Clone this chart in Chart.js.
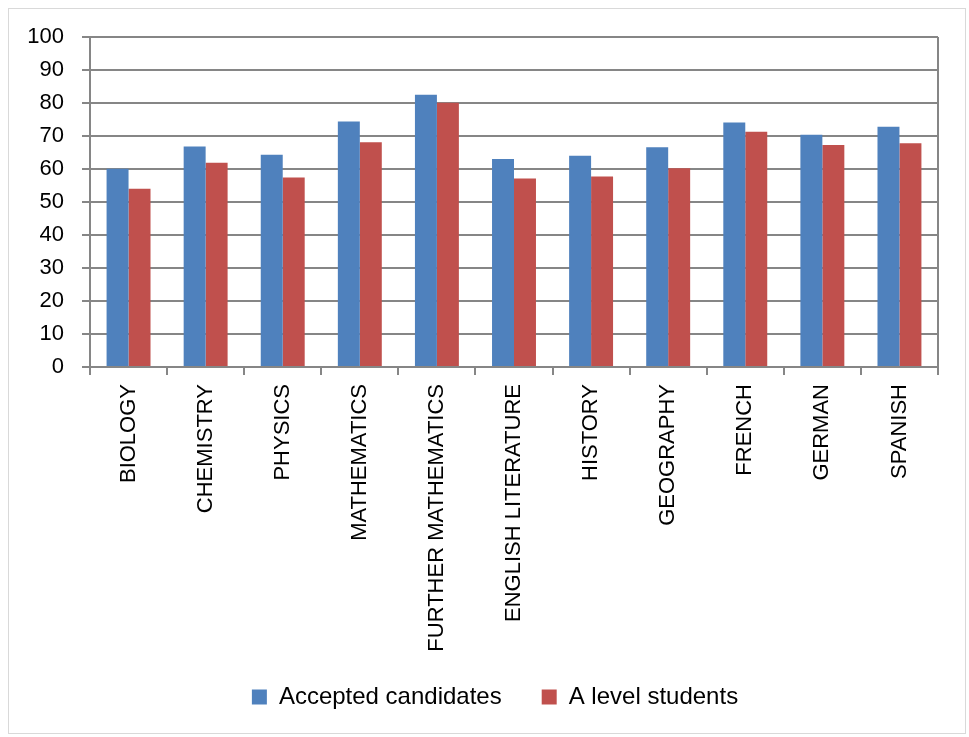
<!DOCTYPE html>
<html>
<head>
<meta charset="utf-8">
<script src="https://cdn.jsdelivr.net/npm/chart.js@4.4.0/dist/chart.umd.min.js"></script>
<style>
  html, body { margin: 0; padding: 0; background: #fff; }
  #wrap { width: 969px; height: 737px; position: relative; }
</style>
</head>
<body>
<div id="wrap"><canvas id="chart" width="969" height="737"></canvas></div>
<script>
// Tantárgyak és értékek
const subjects = ["BIOLOGY", "CHEMISTRY", "PHYSICS", "MATHEMATICS", "FURTHER MATHEMATICS",
  "ENGLISH LITERATURE", "HISTORY", "GEOGRAPHY", "FRENCH", "GERMAN", "SPANISH"];
const acceptedCandidates = [60.1, 66.8, 64.3, 74.4, 82.5, 63.0, 64.0, 66.6, 74.1, 70.4, 72.8];
const aLevelStudents = [54.0, 61.9, 57.4, 68.1, 80.1, 57.1, 57.7, 60.2, 71.3, 67.3, 67.8];
const yTicks = [0, 10, 20, 30, 40, 50, 60, 70, 80, 90, 100];

const FONT = "'Liberation Sans', Arial, sans-serif";
const GRID = '#868686';

// Külső keret, jobb oldali vonal és a jelmagyarázat helye
const framePlugin = {
  id: 'frame',
  beforeInit(chart) {
    // a jelmagyarázat magasságát rögzítjük, hogy a nagy térköz ne nyomja össze a rajzot
    const legend = chart.legend;
    if (legend) {
      const origFit = legend.fit;
      legend.fit = function () {
        origFit.call(this);
        this.height = 50;
      };
    }
  },
  afterLayout(chart) {
    // a jelmagyarázat teteje feljebb kerül (rálóg a tengely dobozára), és jobbra tolódik
    const legend = chart.legend;
    if (legend) {
      legend.top -= 22;
      legend.height += 22;
      legend.left += 26;
      legend.right += 26;
    }
  },
  beforeDraw(chart) {
    const ctx = chart.ctx;
    ctx.save();
    ctx.fillStyle = '#fff';
    ctx.fillRect(0, 0, chart.width, chart.height);
    ctx.strokeStyle = '#d9d9d9';
    ctx.lineWidth = 1;
    ctx.strokeRect(8.5, 8.5, 957, 725);
    ctx.restore();
  },
  afterDraw(chart) {
    const a = chart.chartArea;
    const ctx = chart.ctx;
    ctx.save();
    ctx.strokeStyle = GRID;
    ctx.lineWidth = 2;
    ctx.beginPath();
    ctx.moveTo(a.right, a.top);
    ctx.lineTo(a.right, a.bottom);
    ctx.stroke();
    ctx.restore();
  }
};

new Chart(document.getElementById('chart'), {
  type: 'bar',
  data: {
    labels: subjects,
    datasets: [
      { label: 'Accepted candidates', data: acceptedCandidates, backgroundColor: '#4F81BD' },
      { label: 'A level students', data: aLevelStudents, backgroundColor: '#C0504D' }
    ]
  },
  options: {
    responsive: false,
    animation: false,
    devicePixelRatio: 1,
    categoryPercentage: 0.57,
    barPercentage: 1,
    layout: { padding: { left: 0, right: 31, top: 37, bottom: 20 } },
    plugins: {
      tooltip: { enabled: false },
      legend: {
        position: 'bottom',
        labels: {
          font: { family: FONT, size: 24 },
          color: '#000',
          boxWidth: 15,
          boxHeight: 15,
          padding: 40
        }
      }
    },
    scales: {
      x: {
        offset: true,
        grid: { display: true, drawOnChartArea: false, offset: true, color: GRID, lineWidth: 2, tickLength: 8 },
        border: { color: GRID, width: 2 },
        ticks: {
          minRotation: 90, maxRotation: 90, autoSkip: false,
          color: '#000', font: { family: FONT, size: 22 }, padding: 9
        },
        afterFit(scale) { scale.height = 300; }
      },
      y: {
        min: 0, max: 100,
        afterBuildTicks(scale) { scale.ticks = yTicks.map(v => ({ value: v })); },
        grid: { color: GRID, lineWidth: 2, tickLength: 8 },
        border: { color: GRID, width: 2 },
        ticks: { color: '#000', font: { family: FONT, size: 22 }, padding: 18 },
        afterFit(scale) { scale.width = 90; }
      }
    }
  },
  plugins: [framePlugin]
});
</script>
</body>
</html>
